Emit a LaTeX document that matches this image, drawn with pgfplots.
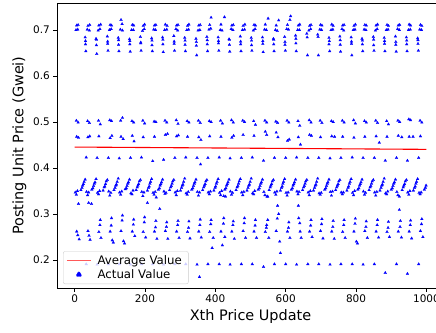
\documentclass[border=0pt]{standalone}
\usepackage{pgfplots}
\pgfplotsset{compat=1.18}
\usepackage{fontspec}
\setmainfont{DejaVu Sans}
\begin{document}
\begin{tikzpicture}
\pgfplotsset{pts/.style={only marks, mark=triangle*, mark size=1.6bp, color=blue, mark options={fill=blue, draw=blue, line width=0.2bp}}}
\begin{axis}[
  scale only axis, width=387bp, height=285bp,
  xmin=-50, xmax=1050, ymin=0.1391, ymax=0.7587,
  xtick={0,200,400,600,800,1000},
  ytick={0.2,0.3,0.4,0.5,0.6,0.7},
  scaled ticks=false,
  xticklabel style={/pgf/number format/1000 sep={}},
  yticklabel style={/pgf/number format/fixed, /pgf/number format/precision=1, /pgf/number format/fixed zerofill},
  /pgf/number format/assume math mode=true,
  tick align=outside, tick pos=left, major tick length=3.7bp,
  every tick/.style={black, line width=0.8bp},
  axis line style={black, line width=0.8bp},
  tick label style={font=\fontsize{10.5}{12}\selectfont},
  label style={font=\fontsize{14.5}{17}\selectfont},
  xlabel={Xth Price Update}, ylabel={Posting Unit Price (Gwei)},
  legend cell align=left,
  legend style={at={(0.0155,0.014)}, anchor=south west, draw=black!20, rounded corners=2bp, fill=white, fill opacity=0.8, draw opacity=1, text opacity=1, inner xsep=3bp, inner ysep=3bp, row sep=1.5bp, nodes={inner xsep=3.5bp, inner ysep=1bp}},
]
\addplot[red, line width=1.1bp, legend image code/.code={\draw[draw=red!65, line width=1.4bp] (0bp,0bp) -- (24bp,0bp);}] coordinates {(0,0.4455) (1000,0.4405)};
\addlegendentry{\hspace{2.5bp}\fontsize{11.8}{13.5}\selectfont Average Value}
% top 0.700 row
\addplot[pts, legend image code/.code={\path[draw=blue, fill=blue, fill opacity=1, line width=0.3bp] (12bp,0bp) ++(0bp,3.8bp) -- ++(-3.3bp,-5.7bp) -- ++(6.6bp,0bp) -- cycle;}] coordinates {
(4,0.700) (9,0.701) (36,0.701) (42,0.699) (67,0.699) (72,0.702) (99,0.700) (104,0.702) (130,0.701) (136,0.699) (162,0.700) (167,0.700) (193,0.698) (198,0.702) (225,0.701) (230,0.700) (256,0.700) (262,0.701) (288,0.702) (293,0.699) (319,0.700) (324,0.701) (351,0.699) (356,0.700) (382,0.701) (387,0.703) (414,0.700) (419,0.699) (445,0.702) (450,0.700) (477,0.700) (483,0.701) (508,0.699) (513,0.702) (540,0.701) (545,0.700) (571,0.700) (576,0.698) (603,0.702) (608,0.701) (634,0.700) (639,0.700) (666,0.699) (671,0.702) (697,0.701) (702,0.700) (729,0.700) (734,0.701) (760,0.702) (765,0.699) (792,0.700) (797,0.701) (823,0.701) (828,0.700) (855,0.699) (860,0.702) (886,0.700) (891,0.701) (918,0.702) (923,0.700) (949,0.700) (954,0.701) (981,0.701) (986,0.700)};
\addlegendentry{\hspace{2.5bp}\fontsize{11.8}{13.5}\selectfont Actual Value}
% top 0.710 row
\addplot[pts, forget plot] coordinates {
(6,0.710) (10,0.711) (38,0.709) (43,0.711) (69,0.710) (74,0.712) (101,0.711) (105,0.710) (132,0.722) (135,0.713) (164,0.711) (168,0.710) (195,0.709) (199,0.712) (227,0.710) (231,0.711) (258,0.712) (263,0.709) (290,0.710) (294,0.711) (321,0.709) (325,0.712) (353,0.710) (357,0.711) (384,0.711) (388,0.727) (416,0.712) (426,0.728) (447,0.710) (451,0.711) (479,0.709) (484,0.712) (510,0.711) (514,0.710) (542,0.712) (550,0.725) (573,0.710) (580,0.721) (605,0.711) (612,0.722) (614,0.730) (636,0.710) (640,0.712) (668,0.709) (672,0.711) (699,0.711) (703,0.710) (731,0.712) (735,0.709) (762,0.710) (766,0.711) (794,0.709) (798,0.712) (825,0.711) (829,0.710) (857,0.710) (861,0.712) (888,0.711) (892,0.709) (920,0.710) (924,0.711) (951,0.712) (955,0.710) (983,0.711) (987,0.709)};
% column 0.684
\addplot[pts, forget plot] coordinates {
(30,0.684) (61,0.681) (93,0.686) (124,0.683) (156,0.680) (187,0.685) (219,0.682) (250,0.684) (282,0.687) (313,0.683) (345,0.681) (376,0.685) (408,0.684) (439,0.680) (471,0.686) (502,0.683) (534,0.684) (565,0.681) (597,0.685) (628,0.688) (660,0.692) (691,0.690) (723,0.683) (754,0.686) (786,0.684) (817,0.681) (849,0.685) (880,0.683) (912,0.686) (943,0.684) (975,0.682)};
% column 0.677
\addplot[pts, forget plot] coordinates {
(31,0.676) (62,0.679) (94,0.675) (125,0.678) (157,0.676) (188,0.673) (220,0.677) (251,0.679) (283,0.675) (314,0.677) (346,0.674) (377,0.678) (409,0.676) (440,0.679) (472,0.675) (503,0.677) (535,0.676) (566,0.679) (598,0.674) (629,0.681) (661,0.684) (692,0.685) (724,0.676) (755,0.678) (787,0.675) (818,0.677) (850,0.679) (881,0.676) (913,0.674) (944,0.677) (976,0.678)};
% column 0.669
\addplot[pts, forget plot] coordinates {
(31,0.669) (62,0.667) (94,0.670) (125,0.668) (157,0.669) (188,0.671) (220,0.667) (251,0.669) (283,0.670) (314,0.668) (346,0.666) (377,0.669) (409,0.671) (440,0.668) (472,0.669) (503,0.667) (535,0.670) (566,0.669) (598,0.668) (629,0.671) (723,0.669) (755,0.668) (787,0.670) (818,0.669) (850,0.667) (881,0.670) (913,0.668) (944,0.669) (976,0.670)};
% column 0.654
\addplot[pts, forget plot] coordinates {
(32,0.654) (63,0.648) (95,0.655) (126,0.654) (158,0.653) (189,0.655) (221,0.654) (252,0.652) (284,0.655) (315,0.654) (347,0.645) (378,0.654) (410,0.655) (441,0.653) (473,0.654) (504,0.655) (536,0.652) (567,0.654) (599,0.655) (630,0.654) (662,0.645) (693,0.645) (725,0.654) (756,0.653) (788,0.645) (819,0.654) (851,0.655) (882,0.654) (914,0.653) (945,0.654) (977,0.655)};
% 0.503 row
\addplot[pts, forget plot] coordinates {
(5,0.503) (37,0.502) (68,0.503) (100,0.504) (131,0.503) (163,0.502) (194,0.503) (226,0.501) (257,0.503) (289,0.504) (320,0.502) (352,0.503) (383,0.502) (415,0.503) (446,0.504) (478,0.503) (509,0.502) (541,0.503) (572,0.501) (604,0.503) (635,0.502) (667,0.504) (698,0.503) (730,0.502) (761,0.503) (793,0.504) (824,0.502) (856,0.503) (887,0.502) (919,0.503) (950,0.506) (982,0.503)};
% 0.499 row
\addplot[pts, forget plot] coordinates {
(10,0.499) (42,0.498) (73,0.495) (105,0.502) (136,0.509) (168,0.499) (199,0.497) (231,0.500) (262,0.499) (294,0.496) (325,0.499) (357,0.498) (388,0.500) (420,0.497) (451,0.499) (483,0.500) (514,0.494) (546,0.499) (577,0.498) (609,0.499) (640,0.492) (672,0.499) (703,0.498) (735,0.500) (766,0.499) (798,0.497) (829,0.499) (861,0.498) (892,0.495) (924,0.500) (955,0.504) (987,0.499)};
% 0.468 rows
\addplot[pts, forget plot] coordinates {
(6,0.468) (38,0.467) (69,0.469) (101,0.465) (132,0.468) (164,0.470) (195,0.467) (227,0.468) (258,0.472) (290,0.469) (321,0.468) (353,0.467) (384,0.469) (416,0.468) (447,0.466) (479,0.472) (510,0.470) (542,0.479) (573,0.477) (605,0.459) (636,0.467) (668,0.472) (699,0.467) (731,0.469) (762,0.468) (794,0.466) (825,0.468) (857,0.469) (888,0.468) (920,0.470) (951,0.468) (983,0.469)
(11,0.466) (43,0.469) (106,0.470) (138,0.463) (169,0.458) (264,0.474) (295,0.471) (359,0.461) (452,0.470) (546,0.472) (578,0.467) (610,0.462) (642,0.451) (673,0.470) (739,0.468) (866,0.455) (930,0.467) (962,0.468)};
% 0.422 row
\addplot[pts, forget plot] coordinates {
(33,0.423) (64,0.422) (96,0.422) (127,0.421) (159,0.422) (190,0.423) (222,0.415) (253,0.418) (285,0.422) (316,0.423) (348,0.422) (358,0.408) (379,0.422) (411,0.423) (442,0.421) (474,0.422) (505,0.423) (537,0.416) (568,0.422) (600,0.422) (631,0.423) (663,0.422) (694,0.422) (726,0.421) (757,0.422) (789,0.423) (820,0.422) (852,0.422) (883,0.416) (915,0.422) (946,0.416) (978,0.422)};
% lower band, low points
\addplot[pts, forget plot] coordinates {
(2,0.347) (5,0.342) (8,0.350) (34,0.348) (37,0.341) (40,0.347) (65,0.346) (68,0.343) (71,0.350) (97,0.349) (100,0.340) (103,0.346) (128,0.347) (131,0.342) (134,0.349) (160,0.345) (163,0.343) (166,0.351) (191,0.348) (194,0.339) (197,0.347) (223,0.346) (226,0.342) (229,0.348) (254,0.349) (257,0.344) (260,0.346) (286,0.347) (289,0.341) (292,0.350) (317,0.345) (320,0.342) (323,0.348) (349,0.348) (352,0.340) (355,0.347) (380,0.347) (383,0.343) (386,0.349) (412,0.346) (415,0.341) (418,0.350) (424,0.339) (429,0.338) (443,0.349) (446,0.342) (449,0.346) (475,0.347) (478,0.341) (481,0.348) (506,0.345) (509,0.343) (512,0.350) (538,0.348) (541,0.341) (547,0.338) (549,0.338) (569,0.347) (572,0.342) (575,0.349) (601,0.346) (604,0.340) (607,0.347) (632,0.349) (635,0.343) (638,0.348) (664,0.347) (667,0.341) (670,0.350) (695,0.345) (698,0.342) (701,0.346) (727,0.348) (730,0.340) (733,0.349) (758,0.347) (761,0.343) (764,0.347) (790,0.346) (793,0.341) (796,0.350) (821,0.349) (824,0.342) (827,0.346) (853,0.347) (856,0.340) (859,0.348) (884,0.345) (887,0.343) (890,0.349) (916,0.348) (919,0.341) (923,0.338) (947,0.347) (950,0.342) (953,0.350) (979,0.346) (982,0.343) (985,0.347)
(11,0.322) (40,0.324) (48,0.322) (207,0.324) (232,0.336) (242,0.311)};
% lower band, rising slashes
\addplot[pts, forget plot] coordinates {
(18,0.352) (21,0.357) (23,0.362) (25,0.365) (27,0.370) (30,0.375)
(49,0.353) (52,0.356) (54,0.361) (56,0.366) (58,0.369) (61,0.376)
(81,0.351) (84,0.358) (86,0.360) (88,0.365) (90,0.371) (93,0.374)
(112,0.352) (115,0.357) (117,0.362) (119,0.364) (121,0.370) (124,0.377)
(144,0.354) (147,0.356) (149,0.361) (151,0.366) (153,0.369) (156,0.375)
(175,0.352) (178,0.358) (180,0.362) (182,0.365) (184,0.371) (187,0.374)
(207,0.351) (210,0.357) (212,0.360) (214,0.366) (216,0.370) (219,0.376)
(238,0.353) (241,0.356) (243,0.362) (245,0.365) (247,0.369) (250,0.375)
(270,0.352) (273,0.358) (275,0.361) (277,0.366) (279,0.371) (282,0.374)
(301,0.351) (304,0.357) (306,0.362) (308,0.364) (310,0.370) (313,0.377)
(333,0.353) (336,0.356) (338,0.361) (340,0.366) (342,0.369) (345,0.375)
(364,0.352) (367,0.358) (369,0.362) (371,0.365) (373,0.371) (376,0.374)
(396,0.351) (399,0.357) (401,0.360) (403,0.366) (405,0.370) (408,0.376)
(427,0.353) (430,0.356) (432,0.362) (434,0.365) (436,0.369) (439,0.375)
(459,0.352) (462,0.358) (464,0.361) (466,0.366) (468,0.371) (471,0.376)
(490,0.351) (493,0.357) (495,0.362) (497,0.364) (499,0.370) (502,0.377)
(522,0.353) (525,0.356) (527,0.361) (529,0.366) (531,0.369) (534,0.375)
(553,0.352) (556,0.358) (558,0.362) (560,0.365) (562,0.371) (565,0.374)
(585,0.351) (588,0.357) (590,0.360) (592,0.366) (594,0.370) (597,0.376)
(616,0.353) (619,0.356) (621,0.362) (623,0.365) (625,0.369) (628,0.375)
(648,0.352) (651,0.358) (653,0.361) (655,0.366) (657,0.371) (660,0.374)
(679,0.351) (682,0.357) (684,0.362) (686,0.364) (688,0.370) (691,0.377)
(711,0.353) (714,0.356) (716,0.361) (718,0.366) (720,0.369) (723,0.375)
(742,0.352) (745,0.358) (747,0.362) (749,0.365) (751,0.371) (754,0.374)
(774,0.351) (777,0.357) (779,0.360) (781,0.366) (783,0.370) (786,0.376)
(805,0.353) (808,0.356) (810,0.362) (812,0.365) (814,0.369) (817,0.375)
(837,0.352) (840,0.358) (842,0.361) (844,0.366) (846,0.371) (849,0.374)
(868,0.351) (871,0.357) (873,0.362) (875,0.364) (877,0.370) (880,0.377)
(900,0.353) (903,0.356) (905,0.361) (907,0.366) (909,0.369) (912,0.375)
(931,0.352) (934,0.358) (936,0.362) (938,0.365) (940,0.371) (943,0.374)
(963,0.351) (966,0.357) (968,0.360) (970,0.366) (972,0.370) (975,0.376)
(994,0.353) (997,0.357) (999,0.362)};
% bottom band
\addplot[pts, forget plot] coordinates {
(6,0.262) (9,0.254) (13,0.245) (38,0.263) (41,0.253) (44,0.244)
(69,0.261) (72,0.276) (73,0.287) (75,0.248)
(101,0.262) (104,0.275) (105,0.291) (107,0.243) (110,0.238)
(132,0.263) (135,0.286) (136,0.297) (139,0.241) (142,0.236)
(164,0.262) (167,0.277) (168,0.288) (171,0.252)
(195,0.261) (198,0.282) (199,0.293) (202,0.249)
(227,0.262) (230,0.271) (231,0.285) (234,0.246)
(258,0.263) (261,0.272) (262,0.282) (265,0.246)
(290,0.262) (293,0.276) (294,0.285) (297,0.248)
(321,0.261) (324,0.270) (325,0.284) (328,0.247)
(353,0.262) (356,0.276) (357,0.288) (360,0.249)
(384,0.261) (387,0.278) (388,0.287) (391,0.226) (394,0.248)
(416,0.262) (420,0.232) (423,0.279) (424,0.291) (427,0.250)
(447,0.262) (450,0.276) (451,0.284) (454,0.246)
(479,0.263) (482,0.280) (483,0.291) (486,0.248)
(510,0.262) (513,0.275) (514,0.287) (517,0.248)
(542,0.261) (545,0.270) (546,0.276) (549,0.287) (552,0.248)
(573,0.263) (576,0.290) (577,0.318) (580,0.300) (583,0.240) (585,0.215)
(605,0.262) (608,0.270) (609,0.282) (612,0.248)
(636,0.318) (637,0.291) (640,0.280) (641,0.262) (644,0.248)
(668,0.262) (671,0.275) (672,0.287) (675,0.250)
(699,0.263) (702,0.278) (703,0.289) (706,0.247)
(731,0.262) (734,0.272) (735,0.285) (738,0.246)
(762,0.261) (765,0.276) (766,0.287) (769,0.248)
(794,0.262) (797,0.279) (798,0.290) (801,0.240) (804,0.236)
(825,0.263) (828,0.272) (829,0.284) (832,0.248)
(857,0.262) (860,0.276) (861,0.287) (864,0.249)
(888,0.261) (891,0.270) (892,0.283) (895,0.250)
(920,0.262) (923,0.309) (925,0.272) (926,0.285) (929,0.249)
(951,0.262) (954,0.276) (955,0.286) (958,0.247)
(983,0.263) (986,0.278) (987,0.289) (990,0.250)};
% 0.19 row
\addplot[pts, forget plot] coordinates {
(33,0.191) (64,0.190) (96,0.191) (127,0.191) (159,0.190) (190,0.191) (222,0.191) (253,0.190) (285,0.191) (316,0.191) (348,0.190) (355,0.163) (379,0.191) (411,0.191) (442,0.190) (474,0.191) (505,0.191) (537,0.185) (568,0.191) (600,0.191) (631,0.190) (663,0.191) (694,0.191) (726,0.190) (757,0.191) (789,0.191) (820,0.190) (852,0.191) (883,0.172) (915,0.191) (946,0.170) (978,0.191)};
\coordinate (BL) at (rel axis cs:-0.1473,-0.1579);
\coordinate (TR) at (rel axis cs:0.9793,1.0105);
\end{axis}
\pgfresetboundingbox
\path[use as bounding box] (BL) rectangle (TR);
\end{tikzpicture}
\end{document}
